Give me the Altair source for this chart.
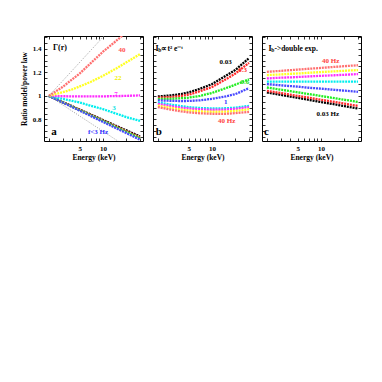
import altair as alt
import pandas as pd

# ---------------- data ----------------
energy = [2, 3, 4, 5, 7, 10, 15, 20, 30]
series = ["0.03", "0.3", "0.6", "1", "3", "7", "22", "40"]
colors = ["#000000", "#ff2a2a", "#22ee22", "#4848ff", "#00eeee", "#ff2aff", "#ffff22", "#ff7070"]

# panel a : Gamma(r)
a_vals = {
    "0.03": [1.0, 0.948, 0.912, 0.883, 0.841, 0.795, 0.743, 0.707, 0.655],
    "0.3":  [1.0, 0.947, 0.910, 0.881, 0.837, 0.790, 0.737, 0.700, 0.647],
    "0.6":  [1.0, 0.946, 0.908, 0.878, 0.834, 0.786, 0.732, 0.694, 0.640],
    "1":    [1.0, 0.944, 0.905, 0.874, 0.828, 0.779, 0.723, 0.684, 0.628],
    "3":    [1.0, 0.975, 0.957, 0.944, 0.915, 0.887, 0.848, 0.820, 0.787],
    "7":    [1.0, 0.997, 0.996, 0.995, 0.995, 0.996, 0.998, 1.000, 1.004],
    "22":   [1.0, 1.030, 1.055, 1.080, 1.120, 1.170, 1.235, 1.285, 1.355],
    "40":   [1.0, 1.075, 1.140, 1.190, 1.280, 1.375, 1.470, 1.540, 1.660],
}
# panel b : I_b ~ t^2 e^-t
b_vals = {
    "0.03": [0.995, 1.005, 1.015, 1.030, 1.060, 1.100, 1.170, 1.220, 1.320],
    "0.3":  [0.985, 0.990, 1.000, 1.010, 1.040, 1.075, 1.140, 1.190, 1.280],
    "0.6":  [0.975, 0.975, 0.980, 0.985, 1.000, 1.025, 1.065, 1.095, 1.140],
    "1":    [0.962, 0.958, 0.956, 0.957, 0.962, 0.975, 0.995, 1.015, 1.065],
    "3":    [0.944, 0.925, 0.913, 0.905, 0.897, 0.893, 0.895, 0.900, 0.915],
    "7":    [0.932, 0.912, 0.900, 0.893, 0.886, 0.882, 0.884, 0.890, 0.905],
    "22":   [0.918, 0.897, 0.884, 0.876, 0.868, 0.865, 0.866, 0.872, 0.887],
    "40":   [0.905, 0.882, 0.868, 0.860, 0.852, 0.848, 0.848, 0.853, 0.864],
}
# panel c : I_b -> double exponential
c_vals = {
    "0.03": [1.029, 1.009, 0.994, 0.983, 0.966, 0.948, 0.928, 0.913, 0.893],
    "0.3":  [1.043, 1.024, 1.010, 1.000, 0.984, 0.967, 0.948, 0.934, 0.915],
    "0.6":  [1.071, 1.053, 1.040, 1.030, 1.015, 0.999, 0.980, 0.967, 0.949],
    "1":    [1.100, 1.090, 1.083, 1.078, 1.069, 1.061, 1.051, 1.044, 1.034],
    "3":    [1.120, 1.120, 1.120, 1.120, 1.120, 1.120, 1.120, 1.120, 1.120],
    "7":    [1.148, 1.154, 1.157, 1.160, 1.165, 1.170, 1.175, 1.179, 1.185],
    "22":   [1.176, 1.182, 1.187, 1.190, 1.196, 1.202, 1.208, 1.213, 1.219],
    "40":   [1.204, 1.212, 1.218, 1.223, 1.230, 1.237, 1.246, 1.252, 1.260],
}

# grey dotted guide lines in panel a
guide_name = ["up", "up", "down", "down"]
guide_e = [2, 12, 2, 17]
guide_r = [1.0, 1.556, 1.0, 0.600]

# annotations (centered)
a_lab_text = ["40", "22", "7", "3", "f<3  Hz", "a"]
a_lab_x = [17.6, 15.6, 14.7, 13.9, 8.6, 2.33]
a_lab_y = [1.389, 1.150, 1.014, 0.895, 0.691, 0.691]
a_lab_col = ["#ff5050", "#f0f000", "#ff2aff", "#00e0e0", "#3030ff", "#000000"]
a_lab_size = [7, 7, 7, 7, 7, 11]

b_lab_text = ["0.03", "0.3", "0.6", "1", "40  Hz", "b"]
b_lab_x = [15.0, 24.9, 26.5, 15.0, 15.5, 2.05]
b_lab_y = [1.287, 1.219, 1.117, 0.946, 0.785, 0.691]
b_lab_col = ["#000000", "#ff2a2a", "#22dd22", "#3030ff", "#ff4040", "#000000"]
b_lab_size = [7, 7, 7, 7, 7, 11]

c_lab_text = ["40  Hz", "0.03  Hz", "c"]
c_lab_x = [13.3, 12.2, 1.98]
c_lab_y = [1.295, 0.844, 0.691]
c_lab_col = ["#ff4040", "#000000", "#000000"]
c_lab_size = [7, 7, 11]

# left-aligned titles inside panels
a_tit_text = ["Γ(r)"]
a_tit_x = [2.26]
a_tit_y = [1.406]
a_tit_size = [8]

b_tit_text = ["I", "b", "∝t² e⁻ᵗ"]
b_tit_x = [1.87, 2.02, 2.22]
b_tit_y = [1.400, 1.388, 1.400]
b_tit_size = [8, 5.5, 7.5]

c_tit_text = ["I", "b", "->double  exp."]
c_tit_x = [2.10, 2.27, 2.50]
c_tit_y = [1.400, 1.388, 1.400]
c_tit_size = [8, 5.5, 7.5]

# ---------------- styling ----------------
XDOM = [1.73, 32.8]
YDOM = [0.617, 1.508]
xticks = [2, 3, 4, 5, 6, 7, 8, 9, 10, 20, 30]
yticks = [0.65, 0.7, 0.75, 0.8, 0.85, 0.9, 0.95, 1.0, 1.05, 1.1, 1.15, 1.2,
          1.25, 1.3, 1.35, 1.4, 1.45, 1.5]
FONT = "Liberation Serif"
W, H = 99, 105
TS = 3


def long_df(vals):
    rows = []
    for i, s in enumerate(series):
        for e, r in zip(energy, vals[s]):
            rows.append({"series": s, "order": i, "energy": e, "ratio": r, "color": colors[i]})
    return pd.DataFrame(rows)


def panel(vals, lab, tit, first, guides=False):
    xs = alt.Scale(type="log", domain=XDOM, nice=False)
    ys = alt.Scale(domain=YDOM, nice=False, zero=False)
    xb = alt.Axis(orient="bottom", values=xticks, tickSize=TS, offset=-TS, domain=False,
                  grid=False, labelOverlap=False, labelPadding=3, titlePadding=2,
                  labelExpr="datum.value == 5 ? '5' : datum.value == 10 ? '10' : ''",
                  title="Energy (keV)")
    ylab = ("abs(datum.value-0.8)<0.001 ? '0.8' : abs(datum.value-1)<0.001 ? '1' : "
            "abs(datum.value-1.2)<0.001 ? '1.2' : abs(datum.value-1.4)<0.001 ? '1.4' : ''")
    if first:
        yl = alt.Axis(orient="left", values=yticks, tickSize=TS, offset=-TS, domain=False,
                      grid=False, labelOverlap=False, labelPadding=3, labelExpr=ylab,
                      title="Ratio model/power law", titlePadding=4)
    else:
        yl = alt.Axis(orient="left", values=yticks, tickSize=TS, offset=-TS, domain=False,
                      grid=False, labels=False, title=None)
    xt = alt.Axis(orient="top", values=xticks, tickSize=TS, offset=-TS, domain=False,
                  grid=False, labels=False, title=None)
    yr = alt.Axis(orient="right", values=yticks, tickSize=TS, offset=-TS, domain=False,
                  grid=False, labels=False, title=None)

    df = long_df(vals)
    lines = alt.Chart(df).mark_line(clip=True, strokeWidth=2.3, strokeDash=[2, 0.9]).encode(
        x=alt.X("energy:Q", scale=xs, axis=xb),
        y=alt.Y("ratio:Q", scale=ys, axis=yl),
        color=alt.Color("color:N", scale=None),
        detail="series:N",
        order="energy:Q",
    )
    ldf = pd.DataFrame({"t": lab[0], "x": lab[1], "y": lab[2], "c": lab[3], "s": lab[4]})
    labels = alt.Chart(ldf).mark_text(font=FONT, fontWeight="bold", align="center",
                                      baseline="middle").encode(
        x=alt.X("x:Q", scale=xs, axis=xt),
        y=alt.Y("y:Q", scale=ys, axis=yr),
        text="t:N",
        color=alt.Color("c:N", scale=None),
        size=alt.Size("s:Q", scale=None),
    )
    tdf = pd.DataFrame({"t": tit[0], "x": tit[1], "y": tit[2], "s": tit[3]})
    titles = alt.Chart(tdf).mark_text(font=FONT, fontWeight="bold", align="left",
                                      baseline="middle", color="black").encode(
        x=alt.X("x:Q", scale=xs, axis=None),
        y=alt.Y("y:Q", scale=ys, axis=None),
        text="t:N",
        size=alt.Size("s:Q", scale=None),
    )
    layers = [lines]
    if guides:
        gdf = pd.DataFrame({"g": guide_name, "e": guide_e, "r": guide_r})
        gl = alt.Chart(gdf).mark_line(clip=True, color="#888888", strokeWidth=0.8,
                                      strokeDash=[1, 1.5]).encode(
            x=alt.X("e:Q", scale=xs, axis=None),
            y=alt.Y("r:Q", scale=ys, axis=None),
            detail="g:N",
        )
        layers.append(gl)
    layers += [labels, titles]
    return alt.layer(*layers).resolve_axis(x="independent", y="independent").properties(
        width=W, height=H)


pa = panel(a_vals, (a_lab_text, a_lab_x, a_lab_y, a_lab_col, a_lab_size),
           (a_tit_text, a_tit_x, a_tit_y, a_tit_size), True, guides=True)
pb = panel(b_vals, (b_lab_text, b_lab_x, b_lab_y, b_lab_col, b_lab_size),
           (b_tit_text, b_tit_x, b_tit_y, b_tit_size), False)
pc = panel(c_vals, (c_lab_text, c_lab_x, c_lab_y, c_lab_col, c_lab_size),
           (c_tit_text, c_tit_x, c_tit_y, c_tit_size), False)

chart = alt.hconcat(pa, pb, pc, spacing=8).properties(
    padding={"left": 11, "top": 24, "right": 5, "bottom": 5}
).configure_view(stroke="black", strokeWidth=1).configure_axis(
    labelFont=FONT, labelFontSize=7, labelFontWeight="bold", labelColor="black",
    titleFont=FONT, titleFontSize=7.5, titleFontWeight="bold", titleColor="black",
    tickColor="black", tickWidth=0.8,
)

chart.save("out.html", embed_options={"renderer": "svg", "actions": False})
